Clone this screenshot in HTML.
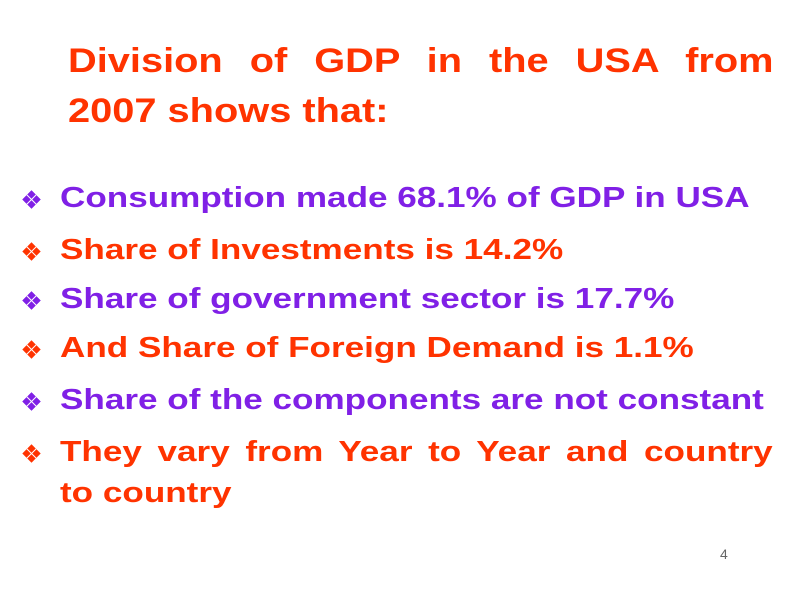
<!DOCTYPE html><html><head><style>
body{margin:0;width:800px;height:600px;background:#fff;position:relative;overflow:hidden;font-family:"Liberation Sans",sans-serif;font-weight:bold}
.t{position:absolute;left:68px;font-size:34px;color:#FF3300;white-space:nowrap;transform:scaleX(1.17);transform-origin:0 0}
.l{position:absolute;left:60px;font-size:29px;white-space:nowrap;transform:scaleX(1.21);transform-origin:0 0}
.p{color:#8020E6}.r{color:#FF3300}
.b{position:absolute;left:25px;width:13px;height:13px;transform:rotate(45deg)}
.bp{background:#8020E6;box-shadow:inset 0 0 0 1px #8020E6}
.br{background:#FF3300}
.b::before,.b::after{content:"";position:absolute;background:#fff}
.b::before{left:6px;top:0;width:1px;height:13px}
.b::after{top:6px;left:0;height:1px;width:13px}
</style></head><body>
<div class="t" style="top:42px;width:603px;text-align:justify;text-align-last:justify">Division of GDP in the USA from</div>
<div class="t" style="top:92px">2007 shows that:</div>
<div class="b bp" style="top:193px"></div><div class="l p" style="top:182px">Consumption made 68.1% of GDP in USA</div>
<div class="b br" style="top:245px"></div><div class="l r" style="top:234px">Share of Investments is 14.2%</div>
<div class="b bp" style="top:294px"></div><div class="l p" style="top:283px">Share of government sector is 17.7%</div>
<div class="b br" style="top:343px"></div><div class="l r" style="top:332px">And Share of Foreign Demand is 1.1%</div>
<div class="b bp" style="top:395px"></div><div class="l p" style="top:384px">Share of the components are not constant</div>
<div class="b br" style="top:447px"></div><div class="l r" style="top:436px;width:589px;text-align:justify;text-align-last:justify">They vary from Year to Year and country</div>
<div class="l r" style="top:477px">to country</div>
<div style="position:absolute;left:720px;top:546px;font-size:14px;font-weight:normal;color:#666">4</div>
</body></html>
